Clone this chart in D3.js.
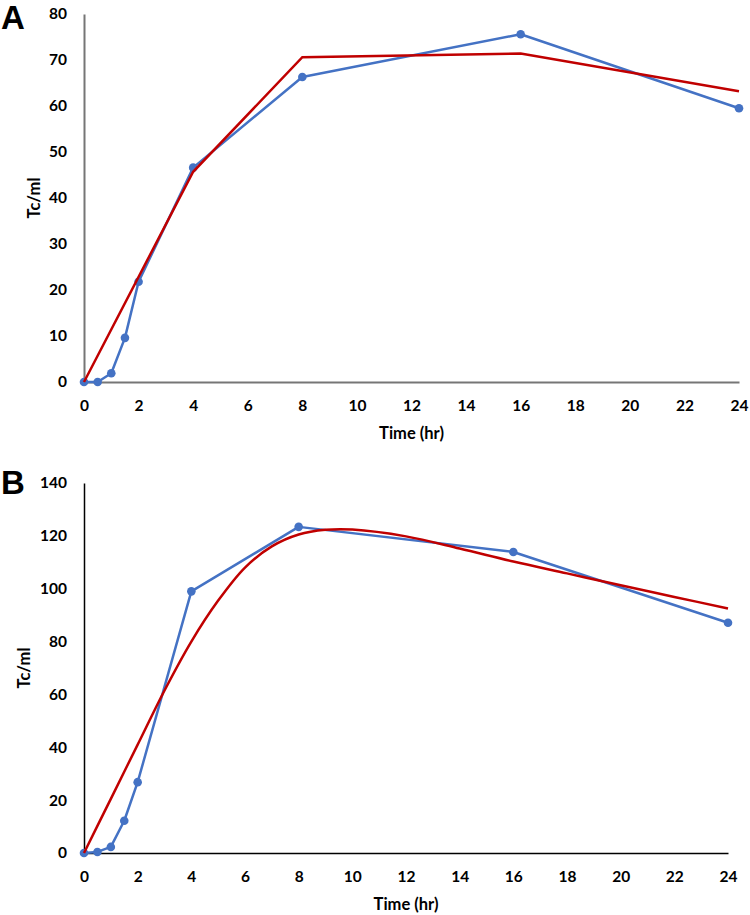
<!DOCTYPE html>
<html><head><meta charset="utf-8">
<script src="https://cdn.jsdelivr.net/npm/d3@7"></script>
<style>body{margin:0;background:#fff}svg{display:block}text{font-family:Lato,"Open Sans",sans-serif;font-weight:700;fill:#000}</style>
</head><body><svg id="c" width="750" height="915"></svg>
<script>
// Panel A
const timeA = [0, 0.5, 1, 1.5, 2, 4, 8, 16, 24];
const obsA = [0, 0, 1.9, 9.6, 21.8, 46.6, 66.3, 75.6, 59.5];
const fitTimeA = [0, 4, 8, 16, 24];
const fitA = [0, 45.7, 70.6, 71.4, 63.2];
const yTicksA = [0, 10, 20, 30, 40, 50, 60, 70, 80];
// Panel B
const timeB = [0, 0.5, 1, 1.5, 2, 4, 8, 16, 24];
const obsB = [0, 0.4, 2.3, 12.2, 26.8, 99, 123.4, 113.9, 87.1];
const fitTimeB = [0, 1, 2, 3, 4, 5, 6, 7, 8, 9, 10, 12, 14, 16, 18, 20, 22, 24];
const fitB = [0, 20.5, 41, 61.5, 80, 95.5, 108, 116, 120.5, 122.3, 122.4, 119.8, 115.2, 110.3, 105.8, 101.3, 96.9, 92.5];
const yTicksB = [0, 20, 40, 60, 80, 100, 120, 140];
const xTicks = [0, 2, 4, 6, 8, 10, 12, 14, 16, 18, 20, 22, 24];

const svg = d3.select("#c");

function panel(o) {
  const g = svg.append("g");
  const x = d3.scaleLinear().domain([0, 24]).range([o.x0, o.x1]);
  const y = d3.scaleLinear().domain([0, o.ymax]).range([o.y0, o.y1]);
  const ya = g.append("g").attr("transform", `translate(${o.x0},0)`)
    .call(d3.axisLeft(y).tickValues(o.yTicks).tickSize(0).tickPadding(17));
  ya.select(".domain").attr("stroke", o.axisColor).attr("stroke-width", o.axisW);
  const xa = g.append("g").attr("transform", `translate(0,${o.y0})`)
    .call(d3.axisBottom(x).tickValues(xTicks).tickSize(0).tickPadding(17));
  xa.select(".domain").attr("stroke", o.axisColor).attr("stroke-width", o.axisW);
  g.selectAll(".tick text").style("font-size", "15.5px").attr("fill", "#000");
  xa.selectAll(".tick text").attr("dy", "0.32em").attr("y", 24);
  g.append("text").attr("x", (o.x0 + o.x1) / 2).attr("y", o.xLabelY)
    .attr("text-anchor", "middle").attr("dominant-baseline", "central")
    .style("font-size", "16.5px").text("Time (hr)");
  g.append("text").attr("transform", `translate(${o.yLabelX},${(o.y0 + o.y1) / 2}) rotate(-90)`)
    .attr("text-anchor", "middle").attr("dominant-baseline", "central")
    .style("font-size", "16.5px").text("Tc/ml");
  g.append("text").attr("x", 1).attr("y", o.letterY)
    .style("font-size", "33px").style("font-family", "'Liberation Sans',Arial,sans-serif").text(o.letter);
  const obs = o.t.map((t, i) => [t, o.obs[i]]);
  const fit = o.ft.map((t, i) => [t, o.fit[i]]);
  const line = d3.line().x(d => x(d[0])).y(d => y(d[1]));
  g.append("path").datum(obs).attr("d", line).attr("fill", "none")
    .attr("stroke", "#4472C4").attr("stroke-width", 2.5).attr("stroke-linejoin", "round");
  g.selectAll(".m").data(obs).enter().append("circle")
    .attr("cx", d => x(d[0])).attr("cy", d => y(d[1])).attr("r", 4.3).attr("fill", "#4472C4");
  const fitLine = d3.line().x(d => x(d[0])).y(d => y(d[1]));
  if (o.smooth) fitLine.curve(d3.curveCatmullRom.alpha(0.5));
  g.append("path").datum(fit).attr("d", fitLine)
    .attr("fill", "none").attr("stroke", "#C00000").attr("stroke-width", 2.5);
}

panel({x0: 84, x1: 739, y0: 382, y1: 14, ymax: 80, yTicks: yTicksA, axisColor: "#767676", axisW: 2,
  t: timeA, obs: obsA, ft: fitTimeA, fit: fitA, smooth: false,
  xLabelY: 433, yLabelX: 34, letter: "A", letterY: 29});
panel({x0: 84, x1: 728, y0: 853, y1: 483, ymax: 140, yTicks: yTicksB, axisColor: "#000", axisW: 1.5,
  t: timeB, obs: obsB, ft: fitTimeB, fit: fitB, smooth: true,
  xLabelY: 904, yLabelX: 24, letter: "B", letterY: 494});
</script></body></html>
